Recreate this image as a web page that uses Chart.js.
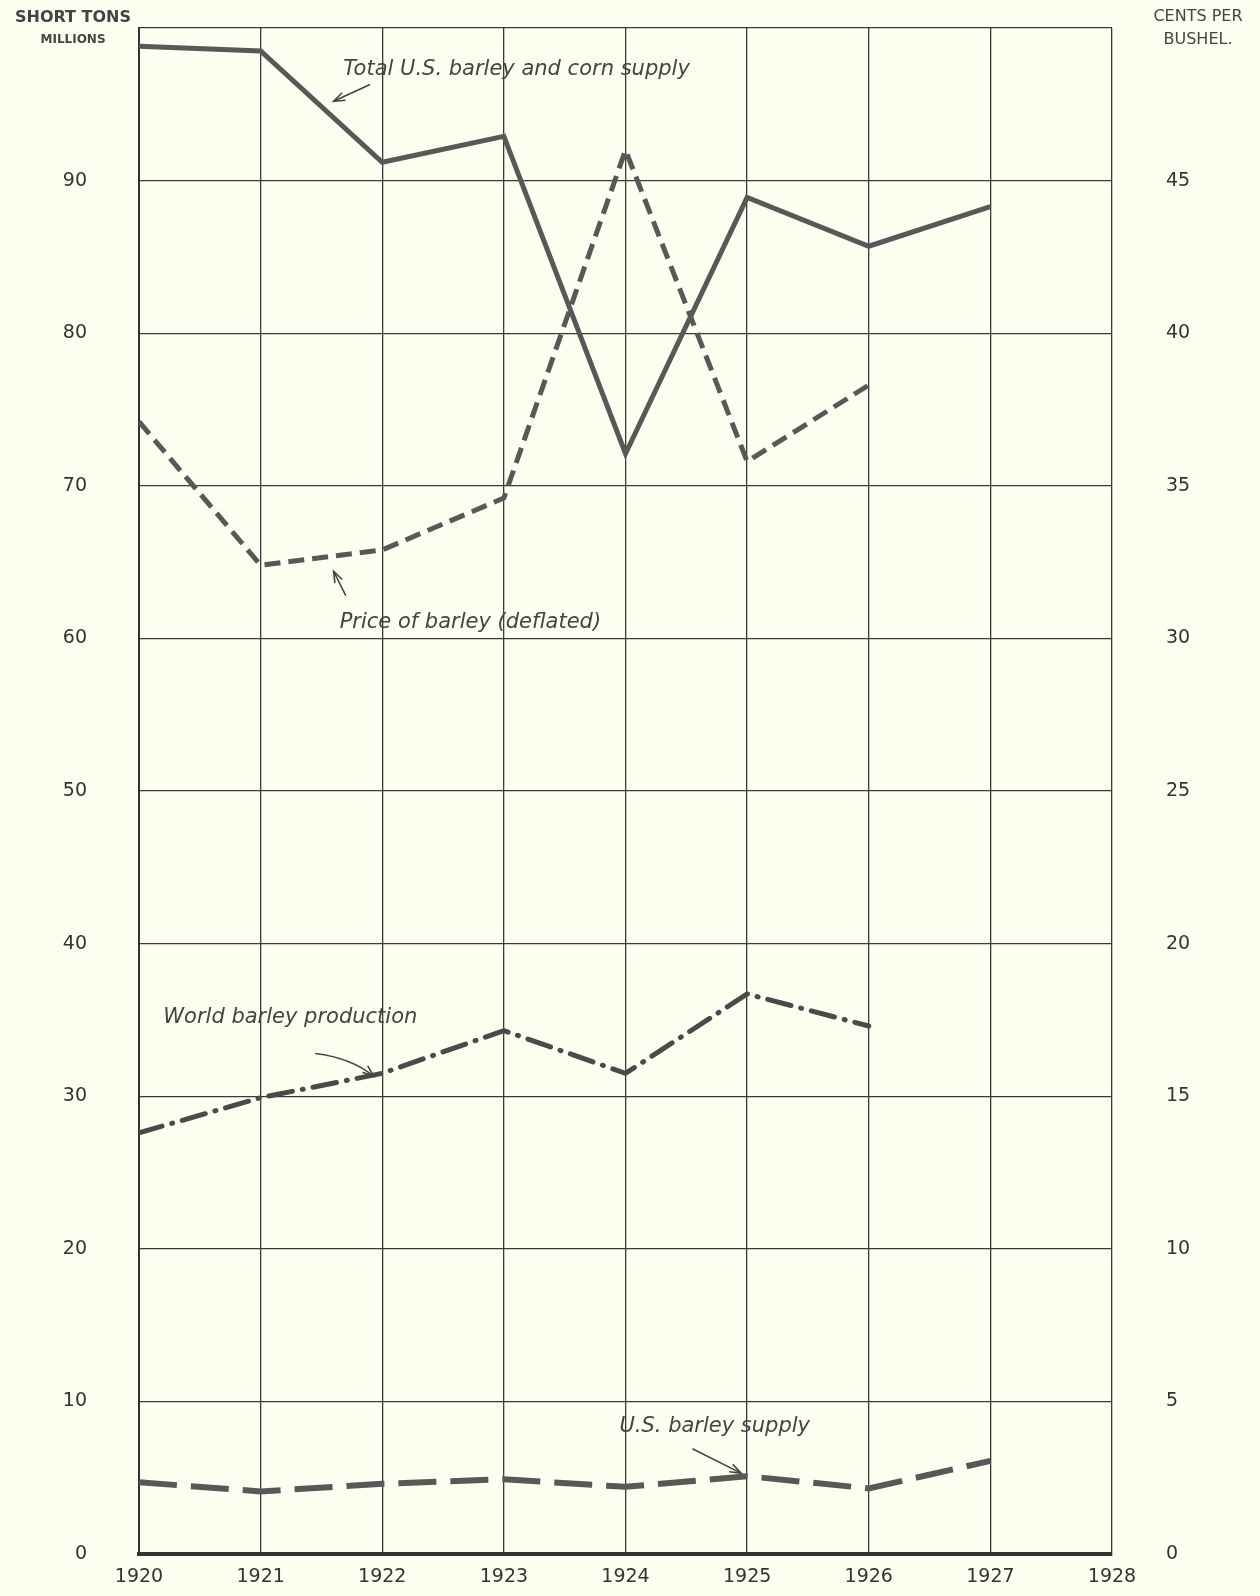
<!DOCTYPE html>
<html>
<head>
<meta charset="utf-8">
<script src="https://cdn.jsdelivr.net/npm/chart.js@4"></script>
<style>
  body { margin: 0; background: #fdfdf0; }
  canvas { display: block; }
</style>
</head>
<body>
<canvas id="chart" width="1260" height="1596"></canvas>
<script>
const years = [1920, 1921, 1922, 1923, 1924, 1925, 1926, 1927];
// millions of short tons
const totalSupply = [98.8, 98.5, 91.2, 92.9, 72.1, 88.9, 85.7, 88.3];
const worldProduction = [27.6, 29.9, 31.5, 34.3, 31.5, 36.7, 34.6];
const usBarleySupply = [4.7, 4.1, 4.6, 4.9, 4.4, 5.1, 4.3, 6.1];
// cents per bushel
const barleyPrice = [37.1, 32.4, 32.9, 34.6, 46.0, 35.8, 38.3];

const leftTicks = [0, 10, 20, 30, 40, 50, 60, 70, 80, 90];
const rightTicks = [0, 5, 10, 15, 20, 25, 30, 35, 40, 45];

const ink = "#585858";
const gridInk = "#3a3a3a";

// pair up years with a series
const toPoints = (series) => series.map((v, i) => ({ x: years[i], y: v }));

// text labels, arrows and axis titles drawn on top
const notes = {
  id: "notes",
  afterDraw(chart) {
    const ctx = chart.ctx;
    const x = chart.scales.x;
    const y = chart.scales.y;
    ctx.save();
    ctx.fillStyle = "#444";
    ctx.strokeStyle = "#444";

    ctx.font = "bold 16px 'DejaVu Sans'";
    ctx.textAlign = "center";
    ctx.fillText("SHORT TONS", 73, 22);
    ctx.font = "bold 12px 'DejaVu Sans'";
    ctx.fillText("MILLIONS", 73, 43);
    ctx.font = "16px 'DejaVu Sans'";
    ctx.fillText("CENTS PER", 1198, 21);
    ctx.fillText("BUSHEL.", 1198, 44);

    ctx.font = "italic 21px 'DejaVu Sans'";
    ctx.textAlign = "left";
    const label = (txt, xv, yv) => ctx.fillText(txt, x.getPixelForValue(xv), y.getPixelForValue(yv));
    label("Total U.S. barley and corn supply", 1921.68, 96.9);
    label("Price of barley (deflated)", 1921.65, 60.7);
    label("World barley production", 1920.2, 34.8);
    label("U.S. barley supply", 1923.95, 8.0);

    const arrow = (x1, y1, x2, y2, cx, cy) => {
      const p1 = [x.getPixelForValue(x1), y.getPixelForValue(y1)];
      const p2 = [x.getPixelForValue(x2), y.getPixelForValue(y2)];
      ctx.lineWidth = 1.6;
      ctx.beginPath();
      ctx.moveTo(p1[0], p1[1]);
      let ax = p1[0], ay = p1[1];
      if (cx !== undefined) {
        const c = [x.getPixelForValue(cx), y.getPixelForValue(cy)];
        ctx.quadraticCurveTo(c[0], c[1], p2[0], p2[1]);
        ax = c[0]; ay = c[1];
      } else {
        ctx.lineTo(p2[0], p2[1]);
      }
      ctx.stroke();
      const ang = Math.atan2(p2[1] - ay, p2[0] - ax);
      ctx.beginPath();
      ctx.moveTo(p2[0] - 12 * Math.cos(ang - 0.35), p2[1] - 12 * Math.sin(ang - 0.35));
      ctx.lineTo(p2[0], p2[1]);
      ctx.lineTo(p2[0] - 12 * Math.cos(ang + 0.35), p2[1] - 12 * Math.sin(ang + 0.35));
      ctx.stroke();
    };
    arrow(1921.9, 96.3, 1921.6, 95.2);
    arrow(1921.7, 62.8, 1921.6, 64.4);
    arrow(1921.45, 32.8, 1921.93, 31.3, 1921.75, 32.5);
    arrow(1924.55, 6.9, 1924.95, 5.3);
    ctx.restore();
  }
};

new Chart(document.getElementById("chart"), {
  type: "line",
  data: {
    datasets: [
      {
        label: "Total U.S. barley and corn supply",
        data: toPoints(totalSupply),
        yAxisID: "y",
        borderColor: ink,
        borderWidth: 5,
      },
      {
        label: "Price of barley (deflated)",
        data: toPoints(barleyPrice),
        yAxisID: "y1",
        borderColor: ink,
        borderWidth: 5,
        borderDash: [16, 8],
      },
      {
        label: "World barley production",
        data: toPoints(worldProduction),
        yAxisID: "y",
        borderColor: "#4a4a4a",
        borderWidth: 5,
        borderDash: [24, 10, 1, 10],
        borderCapStyle: "round",
      },
      {
        label: "U.S. barley supply",
        data: toPoints(usBarleySupply),
        yAxisID: "y",
        borderColor: ink,
        borderWidth: 6,
        borderDash: [38, 14],
      },
    ],
  },
  options: {
    responsive: false,
    animation: false,
    layout: { padding: { top: 28 } },
    elements: {
      point: { radius: 0 },
      line: { tension: 0, fill: false },
    },
    plugins: {
      legend: { display: false },
      tooltip: { enabled: false },
    },
    scales: {
      x: {
        type: "linear",
        min: 1920,
        max: 1928,
        afterFit: (s) => { s.height = 42; },
        ticks: {
          stepSize: 1,
          padding: 12,
          color: "#333",
          font: { family: "'DejaVu Sans'", size: 19 },
          callback: (v) => String(v),
        },
        grid: { color: gridInk, lineWidth: 1.3, drawTicks: false },
        border: { color: "#333", width: 4 },
      },
      y: {
        position: "left",
        min: 0,
        max: 100,
        afterFit: (s) => { s.width = 139; },
        afterBuildTicks: (s) => { s.ticks = leftTicks.concat([100]).map((v) => ({ value: v })); },
        ticks: {
          padding: 2,
          color: "#333",
          font: { family: "'DejaVu Sans'", size: 19 },
          callback: (v) => (v === 100 ? "" : v),
        },
        grid: { color: gridInk, lineWidth: 1.3, drawTicks: true, tickLength: 50, tickColor: "rgba(0,0,0,0)" },
        border: { color: "#333", width: 2 },
      },
      y1: {
        position: "right",
        min: 0,
        max: 50,
        afterFit: (s) => { s.width = 148; },
        afterBuildTicks: (s) => { s.ticks = rightTicks.map((v) => ({ value: v })); },
        ticks: {
          padding: 2,
          color: "#333",
          font: { family: "'DejaVu Sans'", size: 19 },
        },
        grid: { drawOnChartArea: false, color: "rgba(0,0,0,0)", drawTicks: true, tickLength: 52, tickColor: "rgba(0,0,0,0)" },
        border: { display: false },
      },
    },
  },
  plugins: [notes],
});
</script>
</body>
</html>
